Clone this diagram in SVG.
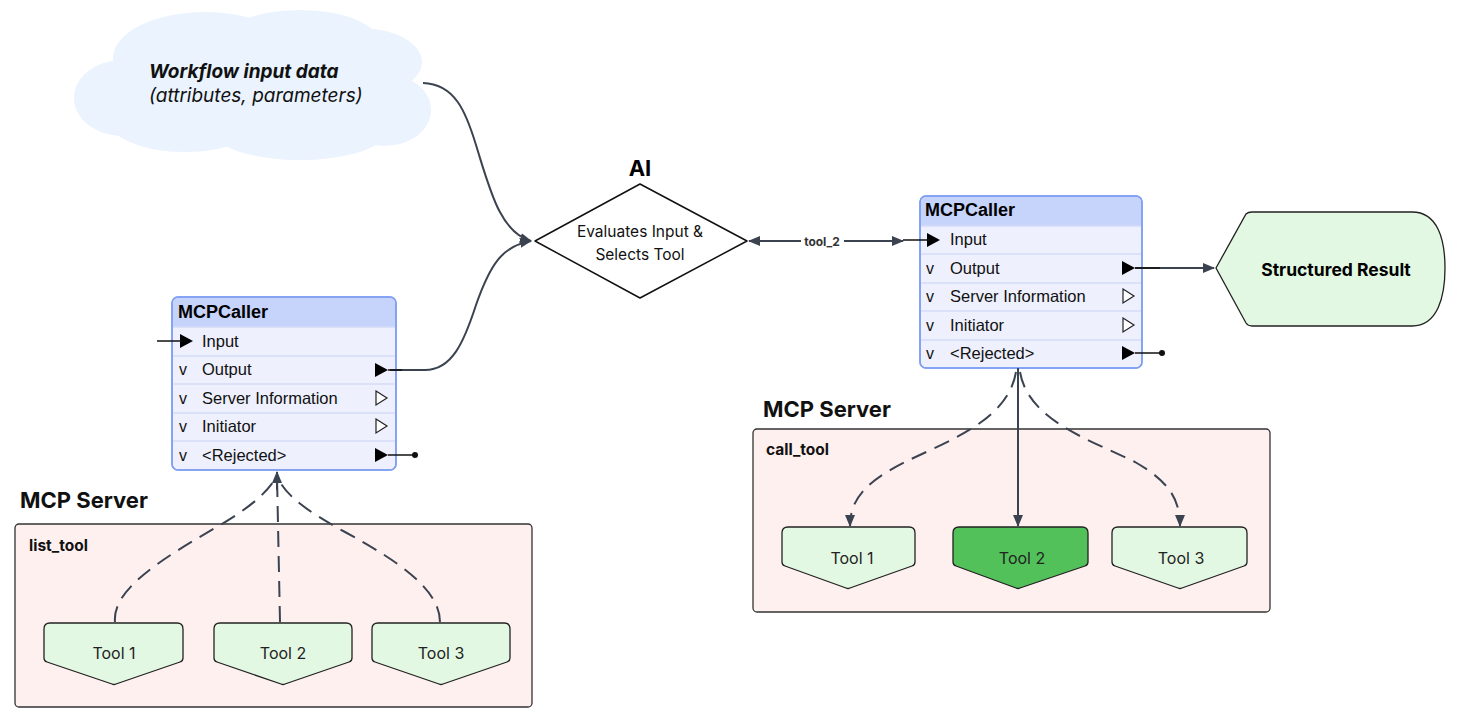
<svg xmlns="http://www.w3.org/2000/svg" width="1460" height="721" viewBox="0 0 1460 721">
<defs>
<style>
.inter{font-family:Inter,"Noto Sans","Liberation Sans",sans-serif;}
.hdr{font-family:"Liberation Sans",Arial,sans-serif;font-weight:bold;font-size:18px;fill:#000;}
.row{font-family:"Liberation Sans",Arial,sans-serif;font-size:16.5px;fill:#111;}
.chev{font-family:"Liberation Sans",Arial,sans-serif;font-size:16px;fill:#111;}
.box{fill:#EEF0FD;stroke:#7E9EF2;stroke-width:1.5;}
.head{fill:#C6D3FA;}
.sep{stroke:#D3DCF7;stroke-width:1.5;}
.pf{fill:#000;}
.ph{fill:#fff;stroke:#222;stroke-width:1.2;}
.conn{fill:none;stroke:#3C4350;stroke-width:2;}
.dash{stroke-dasharray:16 9;}
.blk{fill:none;stroke:#111;stroke-width:1.5;}
.tool{fill:#E2F8E2;stroke:#222;stroke-width:1.3;}
.srv{fill:#FFF0F0;stroke:#333;stroke-width:1.3;}
.big{font-family:Inter,"Noto Sans","Liberation Sans",sans-serif;font-weight:bold;font-size:22px;fill:#111;}
.tl{font-family:Inter,"Noto Sans","Liberation Sans",sans-serif;font-size:16px;fill:#222;text-anchor:middle;}
</style>
<marker id="ah" viewBox="0 0 12 10" refX="11" refY="5" markerWidth="12" markerHeight="10" markerUnits="userSpaceOnUse" orient="auto-start-reverse">
<path d="M0,0 L12,5 L0,10 Z" fill="#3C4350"/>
</marker>
</defs>

<g id="cloud">
<g fill="#EAF3FE">
<ellipse cx="122" cy="98" rx="48" ry="38"/>
<ellipse cx="205" cy="58" rx="92" ry="46"/>
<ellipse cx="300" cy="44" rx="80" ry="34"/>
<ellipse cx="360" cy="62" rx="62" ry="34"/>
<ellipse cx="385" cy="110" rx="46" ry="36"/>
<ellipse cx="185" cy="118" rx="78" ry="34"/>
<ellipse cx="300" cy="128" rx="90" ry="32"/>
<rect x="140" y="55" width="250" height="80"/>
</g>
<text class="inter" x="149" y="78" font-size="19" font-weight="bold" font-style="italic" fill="#111">Workflow input data</text>
<text class="inter" x="149" y="102" font-size="19" font-style="italic" fill="#111">(attributes, parameters)</text>
</g>

<g id="ai">
<text class="inter" x="640" y="176" font-size="22" font-weight="bold" fill="#000" text-anchor="middle">AI</text>
<path d="M640 184 L747 241 L640 298 L535 241 Z" fill="#fff" stroke="#111" stroke-width="1.5" stroke-linejoin="round"/>
<text class="inter" x="640" y="237" font-size="15.5" fill="#111" text-anchor="middle">Evaluates Input &amp;</text>
<text class="inter" x="640" y="260" font-size="15.5" fill="#111" text-anchor="middle">Selects Tool</text>
</g>

<g id="mcpcaller-left">
<rect class="box" x="172" y="297" width="224" height="173" rx="6"/>
<path class="head" d="M173 327 L173 303 Q173 298 178 298 L390 298 Q395 298 395 303 L395 327 Z"/>
<line class="sep" x1="173" y1="327" x2="395" y2="327"/>
<line class="sep" x1="173" y1="356" x2="395" y2="356"/>
<line class="sep" x1="173" y1="384" x2="395" y2="384"/>
<line class="sep" x1="173" y1="413" x2="395" y2="413"/>
<line class="sep" x1="173" y1="441" x2="395" y2="441"/>
<rect x="172" y="297" width="224" height="173" rx="6" fill="none" stroke="#7E9EF2" stroke-width="1.5"/>
<text class="hdr" x="178" y="318">MCPCaller</text>
<path class="pf" d="M180 334 L193 341 L180 348 Z"/>
<text class="row" x="202" y="347">Input</text>
<text class="chev" x="179" y="375">v</text><text class="row" x="202" y="375">Output</text>
<text class="chev" x="179" y="404">v</text><text class="row" x="202" y="404">Server Information</text>
<text class="chev" x="179" y="432">v</text><text class="row" x="202" y="432">Initiator</text>
<text class="chev" x="179" y="461">v</text><text class="row" x="202" y="461">&lt;Rejected&gt;</text>
<path class="pf" d="M375 363 L388 370 L375 377 Z"/>
<path class="ph" d="M376 391 L387 398 L376 405 Z"/>
<path class="ph" d="M376 419 L387 426 L376 433 Z"/>
<path class="pf" d="M375 448 L388 455 L375 462 Z"/>
<line x1="388" y1="455" x2="414" y2="455" stroke="#111" stroke-width="1.5"/>
<circle cx="415" cy="455" r="3" fill="#111"/>
</g>

<g id="mcpcaller-right">
<rect class="box" x="920" y="196" width="222" height="172" rx="6"/>
<path class="head" d="M921 226 L921 202 Q921 197 926 197 L1136 197 Q1141 197 1141 202 L1141 226 Z"/>
<line class="sep" x1="921" y1="226" x2="1141" y2="226"/>
<line class="sep" x1="921" y1="254" x2="1141" y2="254"/>
<line class="sep" x1="921" y1="283" x2="1141" y2="283"/>
<line class="sep" x1="921" y1="311" x2="1141" y2="311"/>
<line class="sep" x1="921" y1="340" x2="1141" y2="340"/>
<rect x="920" y="196" width="222" height="172" rx="6" fill="none" stroke="#7E9EF2" stroke-width="1.5"/>
<text class="hdr" x="925" y="216">MCPCaller</text>
<path class="pf" d="M927 233 L940 240 L927 247 Z"/>
<text class="row" x="950" y="245">Input</text>
<text class="chev" x="926" y="274">v</text><text class="row" x="950" y="274">Output</text>
<text class="chev" x="926" y="302">v</text><text class="row" x="950" y="302">Server Information</text>
<text class="chev" x="926" y="331">v</text><text class="row" x="950" y="331">Initiator</text>
<text class="chev" x="926" y="359">v</text><text class="row" x="950" y="359">&lt;Rejected&gt;</text>
<path class="pf" d="M1122 261 L1135 268 L1122 275 Z"/>
<path class="ph" d="M1123 289 L1134 296 L1123 303 Z"/>
<path class="ph" d="M1123 318 L1134 325 L1123 332 Z"/>
<path class="pf" d="M1122 346 L1135 353 L1122 360 Z"/>
<line x1="1135" y1="353" x2="1161" y2="353" stroke="#111" stroke-width="1.5"/>
<circle cx="1162" cy="353" r="3" fill="#111"/>
</g>

<g id="structured-result">
<path d="M1216 268 L1246 214 Q1248 212 1252 212 L1412 212 C1438 212 1445 240 1445 268 C1445 296 1438 326 1412 326 L1252 326 Q1248 326 1246 323 Z" fill="#E2F8E2" stroke="#222" stroke-width="1.3"/>
<text class="inter" x="1336" y="276" font-size="17.5" font-weight="bold" fill="#000" text-anchor="middle">Structured Result</text>
</g>

<g id="server-left">
<text class="big" x="20" y="508">MCP Server</text>
<rect class="srv" x="15" y="524" width="517" height="183" rx="4"/>
<text class="inter" x="29" y="551" font-size="15.5" font-weight="bold" fill="#111">list_tool</text>
</g>
<g id="tool-l1">
<path class="tool" d="M50 623 L177 623 Q183 623 183 629 L183 658 Q183 661 180 662 L116 684 Q114 685 112 684 L47 662 Q44 661 44 658 L44 629 Q44 623 50 623 Z"/>
<text class="tl" x="114" y="659">Tool 1</text>
</g>
<g id="tool-l2">
<path class="tool" d="M220 623 L346 623 Q352 623 352 629 L352 658 Q352 661 349 662 L285 684 Q283 685 281 684 L217 662 Q214 661 214 658 L214 629 Q214 623 220 623 Z"/>
<text class="tl" x="283" y="659">Tool 2</text>
</g>
<g id="tool-l3">
<path class="tool" d="M378 623 L504 623 Q510 623 510 629 L510 658 Q510 661 507 662 L443 684 Q441 685 439 684 L375 662 Q372 661 372 658 L372 629 Q372 623 378 623 Z"/>
<text class="tl" x="441" y="659">Tool 3</text>
</g>

<g id="server-right">
<text class="big" x="763" y="417">MCP Server</text>
<rect class="srv" x="753" y="429" width="517" height="183" rx="4"/>
<text class="inter" x="766" y="455" font-size="15.5" font-weight="bold" fill="#111">call_tool</text>
</g>
<g id="tool-r1">
<path class="tool" d="M788 527 L909 527 Q915 527 915 533 L915 562 Q915 565 912 566 L850 588 Q848 589 846 588 L785 566 Q782 565 782 562 L782 533 Q782 527 788 527 Z"/>
<text class="tl" x="852" y="564">Tool 1</text>
</g>
<g id="tool-r2">
<path d="M959 527 L1082 527 Q1088 527 1088 533 L1088 562 Q1088 565 1085 566 L1020 588 Q1018 589 1016 588 L956 566 Q953 565 953 562 L953 533 Q953 527 959 527 Z" fill="#52C15A" stroke="#222" stroke-width="1.3"/>
<text class="tl" x="1022" y="564">Tool 2</text>
</g>
<g id="tool-r3">
<path class="tool" d="M1118 527 L1241 527 Q1247 527 1247 533 L1247 562 Q1247 565 1244 566 L1182 588 Q1180 589 1178 588 L1115 566 Q1112 565 1112 562 L1112 533 Q1112 527 1118 527 Z"/>
<text class="tl" x="1181" y="564">Tool 3</text>
</g>

<g id="connectors">
<path class="conn" d="M423 83 C455 84 466 112 476 145 C490 190 500 232 531 241" marker-end="url(#ah)"/>
<path class="conn" d="M390 370 L425 370 C452 370 464 342 476 305 C490 265 502 246 531 241" marker-end="url(#ah)"/>
<line class="blk" x1="388" y1="370" x2="402" y2="370"/>
<line class="conn" x1="749" y1="241" x2="903" y2="241" marker-start="url(#ah)" marker-end="url(#ah)"/>
<rect x="801" y="234" width="43" height="14" fill="#fff"/>
<text class="inter" x="822" y="245.5" font-size="12" font-weight="bold" fill="#333" text-anchor="middle">tool_2</text>
<line class="blk" x1="903" y1="240" x2="930" y2="240"/>
<line class="conn" x1="1135" y1="268" x2="1214" y2="268" marker-end="url(#ah)"/>
<line class="blk" x1="1135" y1="268" x2="1160" y2="268"/>
<line class="blk" x1="157" y1="341" x2="182" y2="341"/>
<path class="conn dash" d="M115 622 C112 590 160 560 215 528 C250 508 268 492 277 476"/>
<path class="conn dash" d="M280 622 L277 476"/>
<path class="conn dash" d="M440 622 C440 590 400 562 345 532 C305 510 285 495 277 476"/>
<line class="conn" x1="277" y1="490" x2="277" y2="472" marker-end="url(#ah)"/>
<line class="conn" x1="1018" y1="368" x2="1018" y2="526" marker-end="url(#ah)"/>
<path class="conn dash" d="M1016 372 C1008 420 950 440 905 462 C865 482 850 500 850 526" marker-end="url(#ah)"/>
<path class="conn dash" d="M1020 372 C1028 420 1090 440 1135 462 C1170 482 1180 500 1180 526" marker-end="url(#ah)"/>
</g>
</svg>
